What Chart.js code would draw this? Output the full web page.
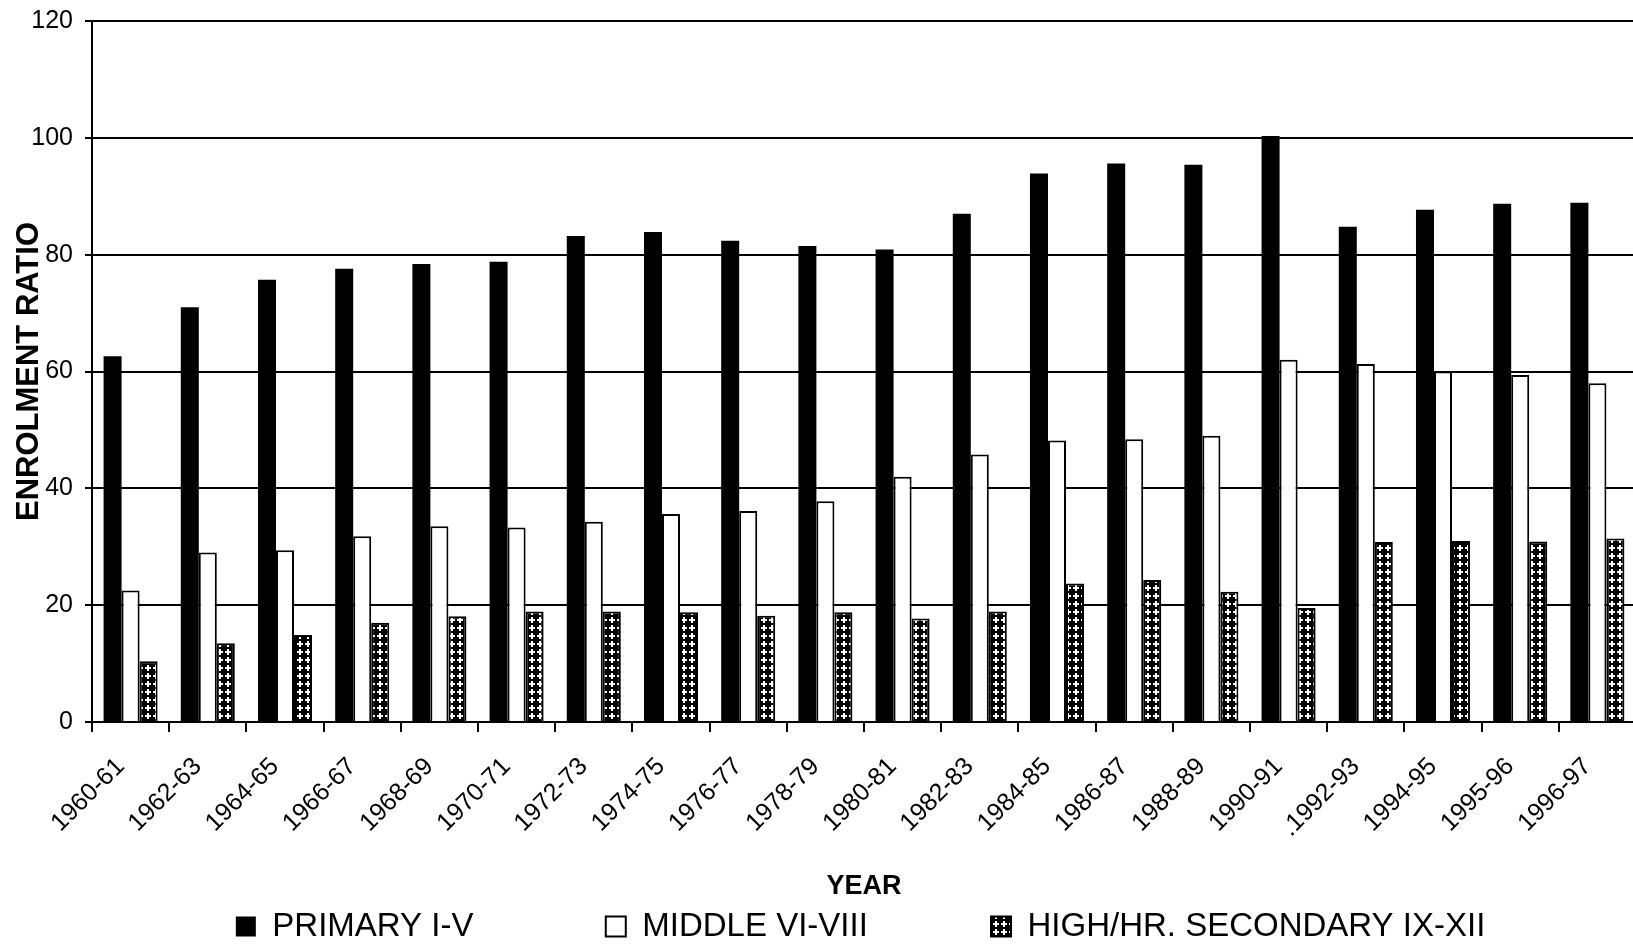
<!DOCTYPE html>
<html>
<head>
<meta charset="utf-8">
<title>Enrolment ratio by stage of education</title>
<script src="https://cdn.jsdelivr.net/npm/chart.js@4.4.1/dist/chart.umd.min.js"></script>
<style>
  html, body { margin: 0; padding: 0; background: #fff; overflow: hidden; }
  #wrap { width: 1640px; height: 947px; }
</style>
</head>
<body>
<div id="wrap"><canvas id="enrolChart" width="1640" height="947"></canvas></div>
<script>
// categories (school years)
const years = [
    "1960-61", "1962-63", "1964-65", "1966-67", "1968-69", "1970-71", "1972-73",
    "1974-75", "1976-77", "1978-79", "1980-81", "1982-83", "1984-85", "1986-87",
    "1988-89", "1990-91", ".1992-93", "1994-95", "1995-96", "1996-97"
];

// enrolment ratios
const primaryRatio = [62.6, 71.0, 75.7, 77.6, 78.4, 78.8, 83.2, 83.9, 82.4, 81.5,
    80.9, 87.0, 93.9, 95.6, 95.4, 100.3, 84.8, 87.7, 88.7, 88.9];
const middleRatio = [22.5, 29.0, 29.4, 31.8, 33.5, 33.3, 34.3, 35.6, 36.1, 37.8,
    42.0, 45.8, 48.2, 48.4, 49.0, 62.0, 61.3, 60.0, 59.4, 58.0];
const highRatio = [10.4, 13.5, 14.9, 17.0, 18.1, 18.9, 18.9, 18.8, 18.2, 18.8,
    17.7, 18.9, 23.7, 24.3, 22.3, 19.5, 30.8, 31.0, 30.9, 31.4];

const yTicks = [0, 20, 40, 60, 80, 100, 120];

const FONT = "'Liberation Sans', Arial, sans-serif";

// cross-hatch fill used for the high/higher secondary series
function hatchPattern() {
    const c = document.createElement("canvas");
    c.width = 8; c.height = 8;
    const g = c.getContext("2d");
    g.fillStyle = "#000";
    g.fillRect(0, 0, 8, 8);
    g.fillStyle = "#fff";
    g.fillRect(3, 1, 2, 6);
    g.fillRect(1, 3, 6, 2);
    return g.createPattern(c, "repeat");
}

// legend entries are spread out the way the original sheet had them
const spaces = n => " ".repeat(n);

const ctx = document.getElementById("enrolChart");

new Chart(ctx, {
    type: "bar",
    data: {
        labels: years,
        datasets: [
            {
                label: "PRIMARY I-V",
                data: primaryRatio,
                backgroundColor: "#000",
                borderColor: "#000",
                borderWidth: 0
            },
            {
                label: "MIDDLE VI-VIII",
                data: middleRatio,
                backgroundColor: "#fff",
                borderColor: "#000",
                borderWidth: 2
            },
            {
                label: "HIGH/HR. SECONDARY IX-XII",
                data: highRatio,
                backgroundColor: hatchPattern(),
                borderColor: "#000",
                borderWidth: 2
            }
        ]
    },
    options: {
        responsive: false,
        animation: false,
        layout: { padding: { top: 0, right: 4, bottom: -6, left: 0 } },
        categoryPercentage: 0.7,
        barPercentage: 1.0,
        color: "#000",
        plugins: {
            tooltip: { enabled: false },
            legend: {
                position: "bottom",
                align: "end",
                labels: {
                    color: "#000",
                    font: { family: FONT, size: 33 },
                    boxWidth: 20,
                    boxHeight: 20,
                    padding: 4,
                    generateLabels(chart) {
                        const items = Chart.defaults.plugins.legend.labels.generateLabels(chart);
                        items[0].text += spaces(14);
                        items[1].text += spaces(13);
                        items[2].text += spaces(16);
                        return items;
                    }
                }
            }
        },
        scales: {
            x: {
                grid: {
                    display: true,
                    drawOnChartArea: false,
                    drawTicks: true,
                    tickLength: 10,
                    color: "#000",
                    lineWidth: 2
                },
                border: { display: true, color: "#000", width: 2 },
                ticks: {
                    color: "#000",
                    font: { family: FONT, size: 25 },
                    minRotation: 45,
                    maxRotation: 45,
                    autoSkip: false,
                    padding: 20,
                    labelOffset: -10
                },
                title: {
                    display: true,
                    text: "YEAR",
                    color: "#000",
                    font: { family: FONT, size: 27, weight: "bold", lineHeight: 1 },
                    padding: { top: 0, bottom: 6 }
                },
                afterFit(scale) { scale.height = 184; }
            },
            y: {
                min: 0,
                max: 120,
                afterBuildTicks(scale) { scale.ticks = yTicks.map(v => ({ value: v })); },
                grid: {
                    color: "#000",
                    lineWidth: 2,
                    tickLength: 7,
                    drawTicks: true
                },
                border: { display: true, color: "#000", width: 2 },
                ticks: {
                    color: "#000",
                    font: { family: FONT, size: 25 },
                    padding: 12
                },
                title: {
                    display: true,
                    text: "ENROLMENT RATIO",
                    color: "#000",
                    font: { family: FONT, size: 31, weight: "bold", lineHeight: 1 },
                    padding: { top: 14, bottom: 0 }
                },
                afterFit(scale) {
                    scale.width = 92;
                    scale.paddingTop = 21;
                }
            }
        }
    }
});
</script>
</body>
</html>
